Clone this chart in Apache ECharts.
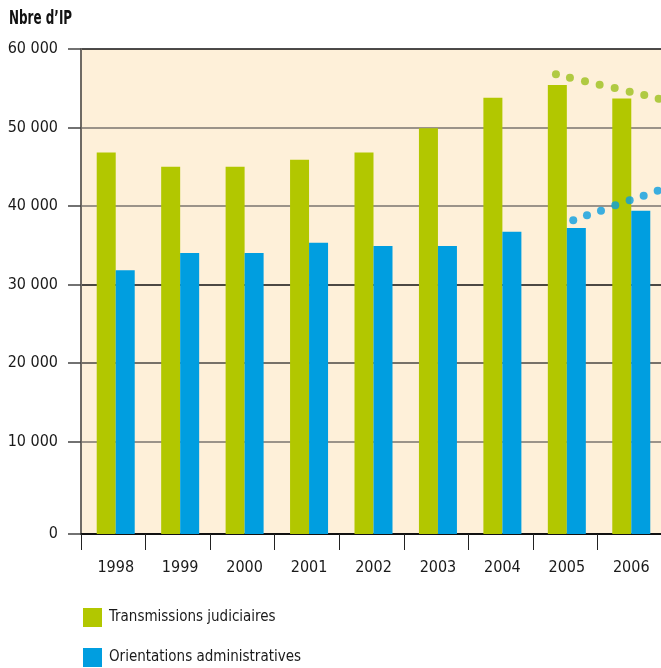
<!DOCTYPE html>
<html>
<head>
<meta charset="utf-8">
<script src="https://cdn.jsdelivr.net/npm/echarts@6/dist/echarts.min.js"></script>
<style>
html,body{margin:0;padding:0;background:#fff;}
#chart{width:661px;height:668px;}
</style>
</head>
<body>
<div id="chart"></div>
<script>
const years = ['1998','1999','2000','2001','2002','2003','2004','2005','2006'];
const transmissions = [46800, 45000, 45000, 45900, 46800, 49900, 53800, 55400, 53700];
const orientations = [31800, 34000, 34000, 35300, 34900, 34900, 36700, 37200, 39400];
const yTicks = [-1800, 10000, 20000, 30000, 40000, 50000, 60000];
// dotted trend marks (x in category units, y in values)
const greenDotsX = [7.357, 7.574, 7.807, 8.034, 8.267, 8.499, 8.725, 8.948];
const greenDotsY = [56780, 56340, 55880, 55450, 55030, 54560, 54140, 53670];
const blueDotsX = [7.625, 7.838, 8.055, 8.276, 8.499, 8.716, 8.933];
const blueDotsY = [38170, 38810, 39400, 40080, 40720, 41310, 41940];

const FONT = '"DejaVu Sans Condensed", "Liberation Sans Narrow", sans-serif';
const GREEN = '#b2c700';
const BLUE = '#009ee0';
const Y_MIN = -1800, Y_MAX = 60000;

function fmt(v){
  if (v < 0) return '0';
  const s = String(v);
  return s.length > 3 ? s.slice(0, s.length-3) + ' ' + s.slice(-3) : s;
}

const chart = echarts.init(document.getElementById('chart'), null, {renderer:'canvas'});
chart.setOption({
  animation: false,
  graphic: [{
    type: 'text', left: 9, top: 10, scaleX: 0.7, originX: 0,
    style: {text: 'Nbre d\u2019IP', font: 'bold 19px "DejaVu Sans Condensed", sans-serif', fill: '#111'}
  }],
  legend: {
    data: ['Transmissions judiciaires', 'Orientations administratives'],
    orient: 'vertical', left: 83, top: 608, padding: 0,
    itemWidth: 19, itemHeight: 19, itemGap: 21, icon: 'rect',
    textStyle: {fontFamily: FONT, fontSize: 15, color: '#1a1a1a', padding: [0,0,0,2]}
  },
  grid: [{
    left: 81, top: 49, width: 581, height: 485, outerBoundsMode: 'none', containLabel: false,
    show: true, backgroundColor: '#fef0d9', borderWidth: 0, z: 0
  }, {
    left: 83.5, top: 49, width: 580, height: 485, outerBoundsMode: 'none', containLabel: false,
    show: false
  }],
  xAxis: [{
    gridIndex: 0, type: 'category', data: years, boundaryGap: true,
    axisLine: {onZero: false, lineStyle: {color: '#111', width: 2}},
    axisTick: {show: true, interval: 0, length: 16, lineStyle: {color: '#222', width: 1}},
    axisLabel: {show: false}
  }, {
    gridIndex: 0, type: 'value', min: 0, max: 9, show: false
  }, {
    gridIndex: 1, type: 'category', data: years, boundaryGap: true,
    axisLine: {show: false, onZero: false}, axisTick: {show: false},
    axisLabel: {fontFamily: FONT, fontSize: 16, color: '#1a1a1a', margin: 26, interval: 0}
  }],
  yAxis: [{
    gridIndex: 0, type: 'value', min: Y_MIN, max: Y_MAX, startValue: Y_MIN,
    axisLine: {show: true, lineStyle: {color: '#6f6a64', width: 2}},
    axisTick: {show: true, length: 13, customValues: yTicks, lineStyle: {color: '#444', width: 1.5}},
    axisLabel: {customValues: yTicks, fontFamily: FONT, fontSize: 16, color: '#1a1a1a', margin: 23, formatter: fmt},
    splitLine: {show: true, lineStyle: {color: ['#111','#7a756e','#4a4742','#111','#7a756e','#7a756e','#111'], width: 1.5}}
  }, {
    gridIndex: 1, type: 'value', min: Y_MIN, max: Y_MAX, startValue: Y_MIN, show: false,
    splitLine: {show: false}
  }],
  series: [{
    name: 'Transmissions judiciaires', type: 'bar', data: transmissions,
    xAxisIndex: 2, yAxisIndex: 1,
    barWidth: 19, barGap: '0%', itemStyle: {color: GREEN}, z: 2
  }, {
    name: 'Orientations administratives', type: 'bar', data: orientations,
    xAxisIndex: 2, yAxisIndex: 1,
    barWidth: 19, barGap: '0%', itemStyle: {color: BLUE}, z: 2
  }, {
    name: 'tendance TJ', type: 'scatter', xAxisIndex: 1, yAxisIndex: 0,
    data: greenDotsX.map((x,i)=>[x, greenDotsY[i]]),
    symbolSize: 8, itemStyle: {color: '#9cc01c'}, z: 5
  }, {
    name: 'tendance OA', type: 'scatter', xAxisIndex: 1, yAxisIndex: 0,
    data: blueDotsX.map((x,i)=>[x, blueDotsY[i]]),
    symbolSize: 8, itemStyle: {color: '#0a9de0'}, z: 5
  }]
});
</script>
</body>
</html>
